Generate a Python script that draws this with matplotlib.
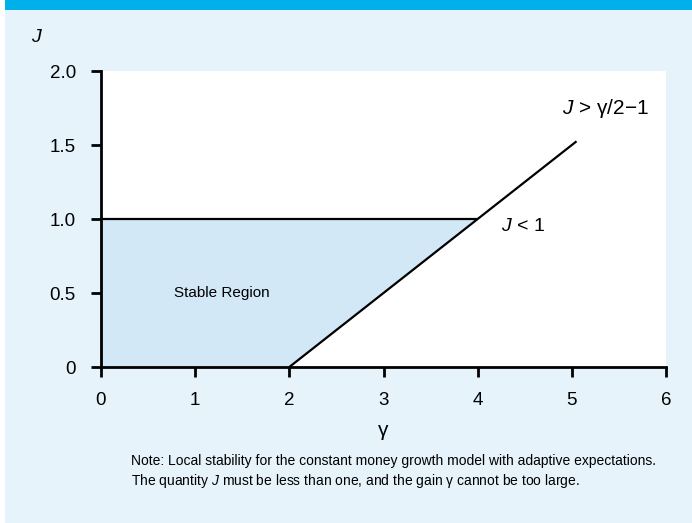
import matplotlib.pyplot as plt
from matplotlib.patches import Rectangle

# stability region data
region_x = [0, 2, 4, 0]
region_y = [0, 0, 1, 1]
limit_x = [0, 4]
limit_y = [1, 1]
gain_x = [2, 5.05]
gain_y = [0, 1.525]

x_ticks = [0, 1, 2, 3, 4, 5, 6]
y_ticks = [0, 0.5, 1.0, 1.5, 2.0]
y_tick_labels = ["0", "0.5", "1.0", "1.5", "2.0"]

note = ("Note: Local stability for the constant money growth model with adaptive expectations.\n"
        "The quantity $J$ must be less than one, and the gain γ cannot be too large.")

plt.rcParams['font.family'] = ['Liberation Sans', 'DejaVu Sans']
plt.rcParams['mathtext.fontset'] = 'custom'
plt.rcParams['mathtext.it'] = 'Liberation Sans:italic'
plt.rcParams['mathtext.rm'] = 'Liberation Sans'

fig = plt.figure(figsize=(6.92, 5.23), dpi=100)
fig.patch.set_facecolor("white")
# light panel and top banner
fig.patches.append(Rectangle((5 / 692, 0), 1, 1 - 10 / 523, transform=fig.transFigure,
                             facecolor="#e6f3fb", edgecolor="none", zorder=-2))
fig.patches.append(Rectangle((5 / 692, 1 - 10 / 523), 1, 10 / 523, transform=fig.transFigure,
                             facecolor="#00b0ea", edgecolor="none", zorder=-2))

ax = fig.add_axes([101 / 692, 1 - 367 / 523, 565 / 692, 296 / 523])
ax.set_zorder(1)
ax.set_facecolor("white")

ax.fill(region_x, region_y, color="#d3e8f6", zorder=1)
ax.plot(limit_x, limit_y, color="black", lw=1.6, solid_capstyle="butt", zorder=2)
ax.plot(gain_x, gain_y, color="black", lw=1.6, solid_capstyle="butt", zorder=2)

ax.set_xlim(0, 6)
ax.set_ylim(0, 2)
ax.set_xticks(x_ticks)
ax.set_yticks(y_ticks)
ax.set_yticklabels(y_tick_labels)
for s in ["top", "right"]:
    ax.spines[s].set_visible(False)
for s in ["left", "bottom"]:
    ax.spines[s].set_linewidth(2)
ax.tick_params(direction="out", length=7, width=2, labelsize=13.5, pad=11)

ax.set_xlabel("γ", fontsize=15, labelpad=9)
fig.text(36 / 692, 1 - 38 / 523, "J", fontsize=14, style="italic", ha="center", va="center")

ax.text(0.77, 0.5, "Stable Region", fontsize=11, va="center")
ax.text(4.25, 0.95, r"$J$ < 1", fontsize=14, va="center")
ax.text(4.9, 1.75, r"$J$ > γ/2$-$1", fontsize=15, va="center")

fig.text(131 / 692, 1 - 472 / 523, note, fontsize=10, va="center", linespacing=1.35)

fig.savefig("out.png", dpi=100)
